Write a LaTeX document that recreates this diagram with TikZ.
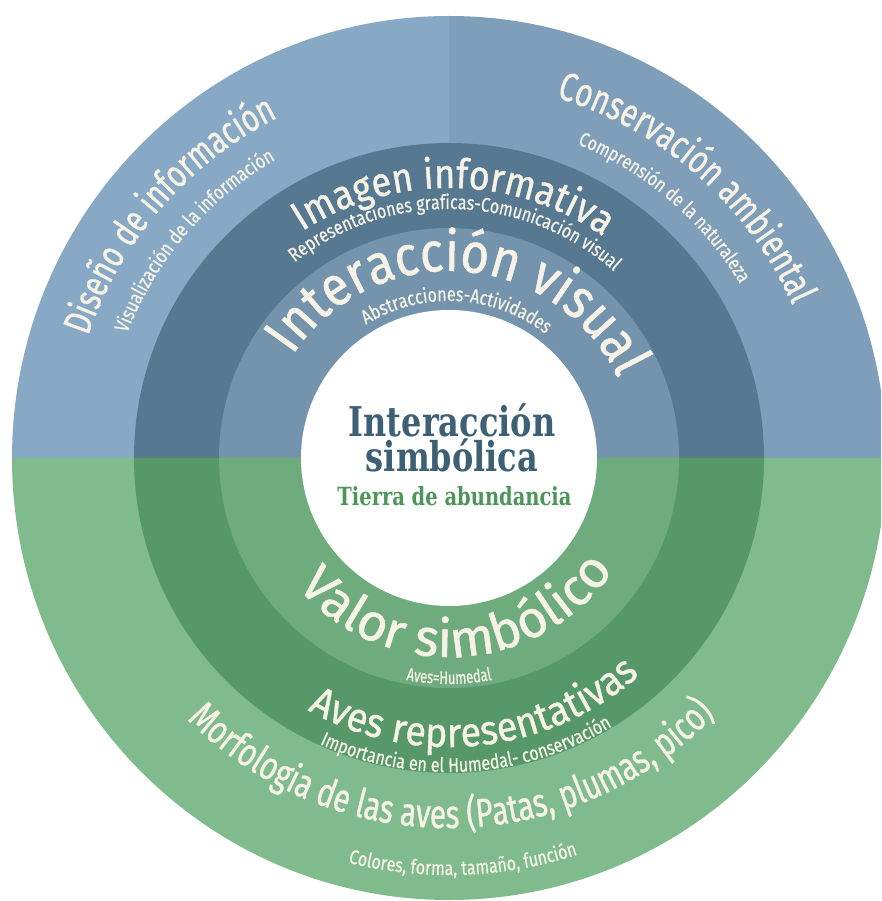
\documentclass[tikz,border=0pt]{standalone}
\usepackage{fontspec}
\setmainfont{Fira Sans}
\newfontfamily\smallfont[FakeStretch=0.8,FakeBold=0.6]{Fira Sans}
\newfontfamily\tinyfont[FakeStretch=0.72,FakeBold=0.6]{Fira Sans}
\newfontfamily\outfont[FakeStretch=0.74,FakeBold=0.9]{Fira Sans}
\newfontfamily\headfont[FakeStretch=0.88,FakeBold=0.9]{Fira Sans}
\newfontfamily\avesfont[FakeStretch=0.92,FakeBold=0.9]{Fira Sans}
\newfontfamily\valfont[FakeBold=0.9]{Fira Sans}
\newfontfamily\centerfont[FakeStretch=0.78]{DejaVu Serif}
\usetikzlibrary{decorations.text}
\definecolor{outTL}{HTML}{88A9C6}
\definecolor{outTR}{HTML}{7F9EBA}
\definecolor{midT}{HTML}{567891}
\definecolor{inT}{HTML}{7493AD}
\definecolor{outB}{HTML}{7FBB8D}
\definecolor{midB}{HTML}{579868}
\definecolor{inB}{HTML}{6EAC7E}
\definecolor{ringtxt}{HTML}{F6F3E6}
\definecolor{ctrblue}{HTML}{3E6075}
\definecolor{ctrgreen}{HTML}{4C965A}
\newcommand\toptext[5]{%
  \path[decorate,decoration={text along path,text align=center,text color=ringtxt,
    text={|#4\fontsize{#3}{#3}\selectfont|#5}}]
    ({#2+80}:#1) arc[start angle={#2+80},end angle={#2-80},radius=#1];}
\newcommand\bottext[5]{%
  \path[decorate,decoration={text along path,text align=center,text color=ringtxt,
    text={|#4\fontsize{#3}{#3}\selectfont|#5}}]
    ({#2-80}:#1) arc[start angle={#2-80},end angle={#2+80},radius=#1];}
\tikzset{
  ctext/.style={text=ctrblue,font=\centerfont\bfseries\fontsize{41}{41}\selectfont,inner sep=0pt},
  gtext/.style={text=ctrgreen,font=\centerfont\bfseries\fontsize{25}{25}\selectfont,inner sep=0pt}
}
\begin{document}
\begin{tikzpicture}[x=1pt,y=1pt]
\useasboundingbox (-449,-443) rectangle (432,458);
\fill[white] (-449,-443) rectangle (432,458);
\clip (-449,-443) rectangle (432,458);
% outer ring
\fill[outTL] (0,0) -- (-437,0) arc[start angle=180,end angle=90,x radius=437,y radius=442] -- cycle;
\fill[outTR] (0,0) -- (0,442) arc[start angle=90,end angle=0,x radius=437,y radius=442] -- cycle;
\fill[outB] (437,0) arc[start angle=0,end angle=-180,x radius=437,y radius=442] -- cycle;
% middle ring
\fill[midT] (-315,0) arc[start angle=180,end angle=0,radius=315] -- cycle;
\fill[midB] (315,0) arc[start angle=0,end angle=-180,radius=315] -- cycle;
% inner ring
\fill[inT] (-230,0) arc[start angle=180,end angle=0,radius=230] -- cycle;
\fill[inB] (230,0) arc[start angle=0,end angle=-180,radius=230] -- cycle;
% centre
\fill[white] (0,0) circle[radius=148];
% ring texts
\toptext{381}{139}{39}{\outfont}{Diseño de información}
\toptext{345}{139.5}{20.5}{\smallfont}{Visualización de la información}
\toptext{376}{48.7}{40}{\outfont}{Conservación ambiental}
\toptext{339}{49.3}{20}{\smallfont}{Comprensión de la naturaleza}
\toptext{270}{89}{41}{\headfont}{Imagen informativa}
\toptext{249}{88.4}{20}{\smallfont}{Representaciones graficas-Comunicación visual}
\toptext{187}{86}{56}{\headfont}{Interacción visual}
\toptext{157}{87}{20}{\smallfont}{Abstracciones-Actividades}
\bottext{199}{273}{52}{\valfont}{Valor simbólico}
\bottext{226}{270}{18}{\tinyfont}{Aves=Humedal}
\bottext{289}{276}{41}{\avesfont}{Aves representativas}
\bottext{314}{273.5}{20}{\smallfont}{Importancia en el Humedal- conservación}
\bottext{370}{270.5}{40}{\outfont}{Morfologia de las aves (Patas, plumas, pico)}
\bottext{417}{272}{20}{\smallfont}{Colores, forma, tamaño, función}
% centre texts
\node[ctext,anchor=base] (t1) at (3,21) {Interacción};
\node[ctext,anchor=base] (t2) at (3,-14) {simbólica};
\node[gtext,anchor=base] (t3) at (5.5,-48) {Tierra de abundancia};
\end{tikzpicture}
\end{document}
